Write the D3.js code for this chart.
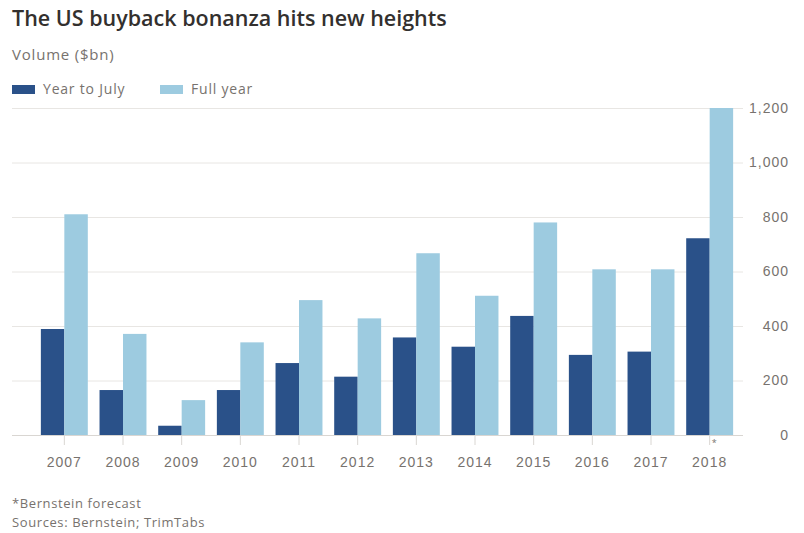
<!DOCTYPE html>
<html>
<head>
<meta charset="utf-8">
<script src="https://cdn.jsdelivr.net/npm/d3@7"></script>
<style>
  body { margin: 0; background: #fff; }
  svg { font-family: 'Open Sans', sans-serif; }
  .grid line { stroke: #e8e6e3; }
  .grid .domain { display: none; }
  .y-axis text, .x-axis text { fill: #77726e; font-size: 14px; letter-spacing: 1px; }
</style>
</head>
<body>
<svg width="804" height="533"></svg>
<script>
const years = ['2007', '2008', '2009', '2010', '2011', '2012', '2013', '2014', '2015', '2016', '2017', '2018'];
const seriesNames = ['Year to July', 'Full year'];
const yearToJuly = [389, 165, 34, 165, 264, 214, 358, 324, 437, 294, 306, 722];
const fullYear = [810, 371, 128, 340, 495, 428, 667, 511, 780, 608, 608, 1200];
const yTicks = [0, 200, 400, 600, 800, 1000, 1200];
const colors = ['#2a5189', '#9dcbe0'];

const svg = d3.select('svg');

const x0 = d3.scaleBand().domain(years).range([35, 739]).paddingInner(0.2).paddingOuter(0.1);
const x1 = d3.scaleBand().domain(seriesNames).range([0, x0.bandwidth()]);
const y = d3.scaleLinear().domain([0, 1200]).range([435, 108]);
const z = d3.scaleOrdinal().domain(seriesNames).range(colors);

// title block
svg.append('text')
  .attr('x', 12).attr('y', 26)
  .attr('fill', '#33302e')
  .style('font-size', '21.5px')
  .style('font-weight', 600)
  .text('The US buyback bonanza hits new heights');

svg.append('text')
  .attr('x', 12).attr('y', 60)
  .attr('fill', '#77726e')
  .style('font-size', '15px')
  .style('letter-spacing', '0.8px')
  .text('Volume ($bn)');

// legend
const legend = svg.append('g').selectAll('g')
  .data(seriesNames)
  .enter().append('g')
  .attr('transform', function (d, i) { return 'translate(' + (12 + i * 148) + ',85)'; });

legend.append('rect')
  .attr('width', 23).attr('height', 9)
  .attr('fill', z);

legend.append('text')
  .attr('x', 31).attr('y', 4.5)
  .attr('dy', '0.35em')
  .attr('fill', '#77726e')
  .style('font-size', '14px')
  .style('letter-spacing', '0.8px')
  .text(function (d) { return d; });

// grid + right axis
svg.append('g')
  .attr('class', 'grid')
  .attr('transform', 'translate(743,0)')
  .call(d3.axisLeft(y).tickValues(yTicks).tickSize(731).tickFormat(''));

svg.append('g')
  .attr('class', 'y-axis')
  .attr('transform', 'translate(789,0)')
  .call(d3.axisLeft(y).tickValues(yTicks).tickSize(0).tickPadding(0).tickFormat(d3.format(',')))
  .call(function (g) { g.select('.domain').remove(); })
  .selectAll('text').attr('text-anchor', 'end');

// bars
const rows = years.map(function (yr, i) {
  return { year: yr, values: [
    { type: seriesNames[0], value: yearToJuly[i] },
    { type: seriesNames[1], value: fullYear[i] }
  ] };
});

svg.append('g').selectAll('g')
  .data(rows)
  .enter().append('g')
  .attr('transform', function (d) { return 'translate(' + x0(d.year) + ',0)'; })
  .selectAll('rect')
  .data(function (d) { return d.values; })
  .enter().append('rect')
  .attr('x', function (d) { return x1(d.type); })
  .attr('width', x1.bandwidth())
  .attr('y', function (d) { return y(d.value); })
  .attr('height', function (d) { return y(0) - y(d.value); })
  .attr('fill', function (d) { return z(d.type); });

// x axis
const xAxis = svg.append('g')
  .attr('class', 'x-axis')
  .attr('transform', 'translate(0,435)')
  .call(d3.axisBottom(x0).tickSize(10).tickPadding(12));
xAxis.select('.domain').attr('stroke', '#d9d6d2').attr('d', 'M12,0.5H743');
xAxis.selectAll('.tick line').attr('stroke', '#d9d6d2');

svg.append('text')
  .attr('x', x0('2018') + x0.bandwidth() / 2 + 2).attr('y', 446)
  .attr('fill', '#77726e')
  .style('font-size', '9px')
  .text('*');

// footer
svg.append('text')
  .attr('x', 12).attr('y', 508)
  .attr('fill', '#77726e')
  .style('font-size', '13px')
  .style('letter-spacing', '0.6px')
  .text('*Bernstein forecast');

svg.append('text')
  .attr('x', 12).attr('y', 527)
  .attr('fill', '#77726e')
  .style('font-size', '13px')
  .style('letter-spacing', '0.6px')
  .text('Sources: Bernstein; TrimTabs');
</script>
</body>
</html>
